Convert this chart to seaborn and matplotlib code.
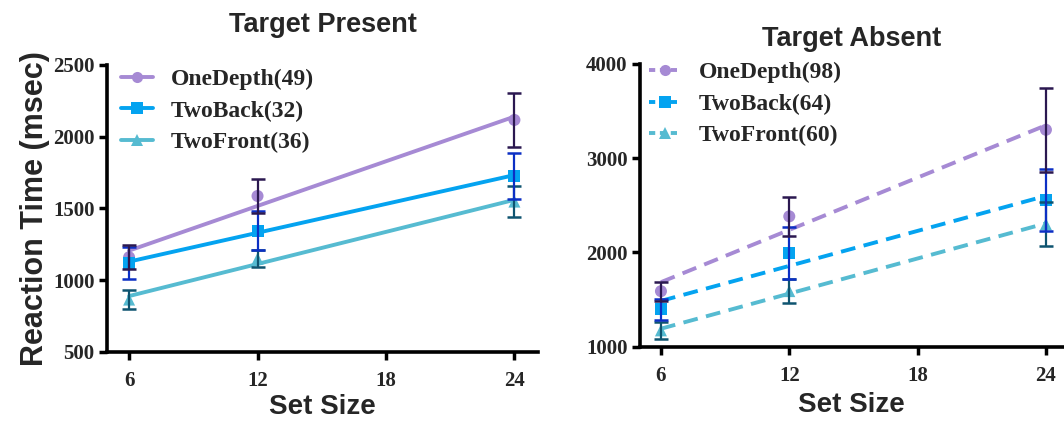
import numpy as np
import pandas as pd
import matplotlib
matplotlib.use("Agg")
import matplotlib.pyplot as plt
from matplotlib.lines import Line2D
import seaborn as sns

# Set sizes tested
set_sizes = [6, 12, 24]

# Target-present mean reaction times (ms) and standard errors
present_onedepth = [1160, 1587, 2117]
present_onedepth_err = [85, 118, 190]
present_twoback = [1120, 1345, 1728]
present_twoback_err = [112, 135, 160]
present_twofront = [865, 1150, 1548]
present_twofront_err = [65, 58, 110]

# Target-absent mean reaction times (ms) and standard errors
absent_onedepth = [1590, 2383, 3300]
absent_onedepth_err = [100, 205, 445]
absent_twoback = [1397, 1993, 2555]
absent_twoback_err = [115, 275, 330]
absent_twofront = [1175, 1591, 2300]
absent_twofront_err = [90, 130, 230]

present_labels = ["OneDepth(49)", "TwoBack(32)", "TwoFront(36)"]
absent_labels = ["OneDepth(98)", "TwoBack(64)", "TwoFront(60)"]

sns.set_theme(style="white")
plt.rcParams["font.family"] = ["Liberation Serif", "DejaVu Serif"]

line_colors = ["#A68AD4", "#04A3F0", "#56BBD1"]
err_colors = ["#2B1850", "#0C2FC4", "#0E5470"]
markers = ["o", "s", "^"]

fig = plt.figure(figsize=(10.64, 4.22), dpi=100)
ax1 = fig.add_axes([0.1006, 0.166, 0.405, 0.680])
ax2 = fig.add_axes([0.6015, 0.178, 0.3976, 0.671])

panels = [
    (ax1, [present_onedepth, present_twoback, present_twofront],
     [present_onedepth_err, present_twoback_err, present_twofront_err],
     present_labels, "-", "Target Present", (500, 2500), [500, 1000, 1500, 2000, 2500],
     24, (4.97, 25.1), (0.01, 1.02), 2),
    (ax2, [absent_onedepth, absent_twoback, absent_twofront],
     [absent_onedepth_err, absent_twoback_err, absent_twofront_err],
     absent_labels, "--", "Target Absent", (1000, 4000), [1000, 2000, 3000, 4000],
     13, (5.02, 24.8), (0.0, 1.04), 4),
]

for ax, means, errs, labels, ls, title, ylim, yticks, tpad, xlim, anchor, xlpad in panels:
    for i in range(3):
        df = pd.DataFrame({"size": set_sizes, "rt": means[i]})
        # least-squares fit through the condition means
        line_kws = dict(color=line_colors[i], lw=2.8, zorder=2)
        if ls == "--":
            line_kws.update(ls=(0, (3.8, 2.2)))
        sns.regplot(data=df, x="size", y="rt", ax=ax, ci=None, scatter=False,
                    truncate=True, line_kws=line_kws)
        sns.scatterplot(data=df, x="size", y="rt", ax=ax, marker=markers[i],
                        color=line_colors[i], s=75, edgecolor="none", zorder=3,
                        legend=False)
    for i in reversed(range(3)):
        ax.errorbar(set_sizes, means[i], yerr=errs[i], fmt="none",
                    ecolor=err_colors[i], elinewidth=1.6, capsize=5,
                    capthick=1.8, zorder=4 + (2 - i))

    ax.set_xlim(*xlim)
    ax.set_ylim(*ylim)
    ax.set_xticks([6, 12, 18, 24])
    ax.set_yticks(yticks)
    ax.set_xlabel("Set Size", family="Liberation Sans", fontweight="bold",
                  fontsize=20, labelpad=xlpad)
    ax.set_ylabel("")
    ax.set_title(title, family="Liberation Sans", fontweight="bold",
                 fontsize=19.5, pad=tpad)
    for lbl in ax.get_xticklabels() + ax.get_yticklabels():
        lbl.set_fontweight("bold")
        lbl.set_fontsize(15)
    ax.tick_params(axis="both", which="major", direction="out", length=6,
                   width=2.5, color="black", pad=3, bottom=True, left=True)
    ax.tick_params(axis="x", pad=8)
    for side in ["top", "right"]:
        ax.spines[side].set_visible(False)
    for side in ["left", "bottom"]:
        ax.spines[side].set_linewidth(2.6)
        ax.spines[side].set_color("black")

    handles = []
    for i in range(3):
        h = Line2D([0], [0], color=line_colors[i], lw=2.8,
                   ls="-" if ls == "-" else (0, (1.6, 1.2)),
                   marker=markers[i], markersize=8, markeredgewidth=0)
        handles.append(h)
    ax.legend(handles, labels, loc="upper left", bbox_to_anchor=anchor,
              frameon=False, handlelength=1.35, handletextpad=0.75,
              labelspacing=0.42, borderaxespad=0.0,
              prop={"family": "Liberation Serif", "weight": "bold", "size": 17})

ax1.set_ylabel("Reaction Time (msec)", family="Liberation Sans",
               fontweight="bold", fontsize=22, labelpad=2)

fig.savefig("out.png", dpi=100, facecolor="white")
